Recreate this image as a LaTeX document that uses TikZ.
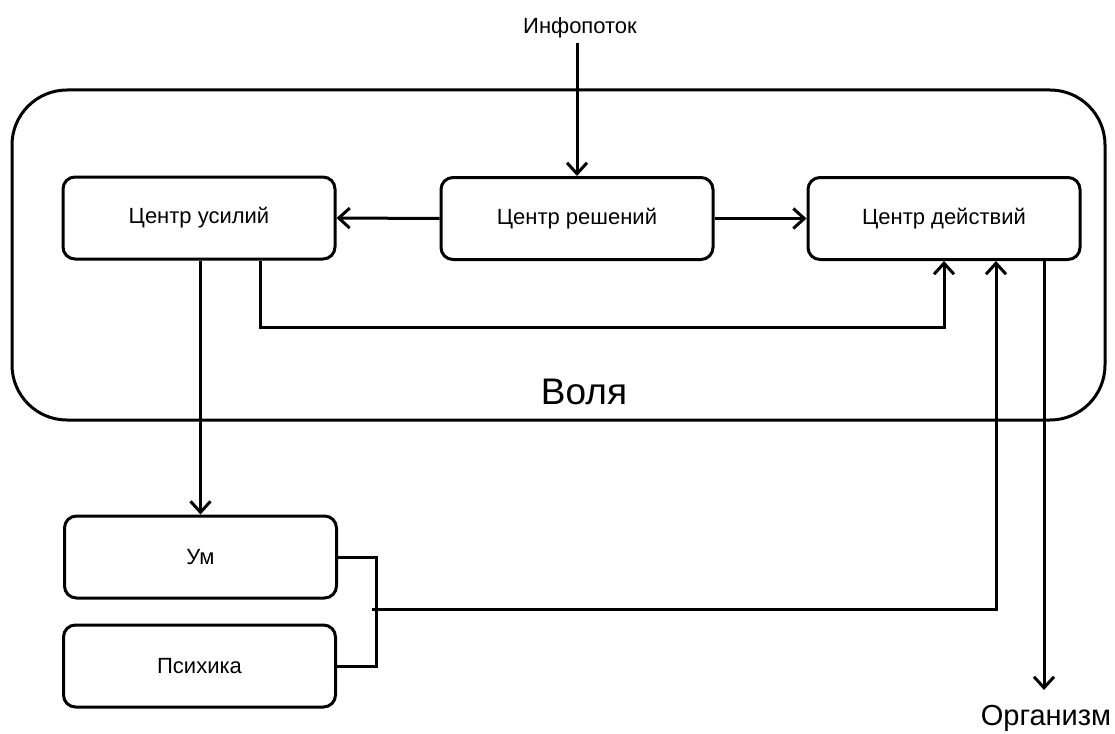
\documentclass[tikz,border=0pt]{standalone}
\usepackage{fontspec}
\setmainfont{Liberation Sans}
\usetikzlibrary{arrows.meta}
\tikzset{
	blok/.style={draw, rounded corners=12pt, minimum width=272pt, minimum height=82pt, inner sep=0pt, font=\fontsize{22}{26}\selectfont},
	strelka/.style={-{Straight Barb[length=11pt,width=20pt]}}
}
\begin{document}
\begin{tikzpicture}[x=1pt,y=-1pt,line width=3pt]
	\useasboundingbox (0,0) rectangle (1115,733);
	\draw[rounded corners=55pt] (12,90) rectangle (1105,420);
	\node[font=\fontsize{37}{42}\selectfont] (volya) at (584,392) {Воля};
	\node[font=\fontsize{22}{26}\selectfont] (info) at (580,28) {Инфопоток};
	\node[blok] (usil) at (199,218) {Центр усилий};
	\node[blok] (resh) at (577,218.5) {Центр решений};
	\node[blok] (deist) at (944,218.5) {Центр действий};
	\node[blok] (um) at (200.5,557) {Ум};
	\node[blok] (psih) at (199.5,666) {Психика};
	\node[font=\fontsize{29}{33}\selectfont] (org) at (1046,718) {Организм};
	\coordinate (skoba) at (376,609);
	\coordinate (orgtip) at (1044,690);
	\draw[strelka] (resh.north |- info.south) -- (resh.north);
	\draw[strelka] (resh.west) -- (usil.east);
	\draw[strelka] (resh.east) -- (deist.west);
	\draw[strelka] ([xshift=61pt]usil.south) -- ++(0,67) -| (deist.south);
	\draw[strelka] (usil.south -| um.north) -- (um.north);
	\draw (um.east) -| (skoba) |- (psih.east);
	\draw[strelka] ([xshift=-4pt]skoba) -| ([xshift=52pt]deist.south);
	\draw[strelka] ([xshift=100pt]deist.south) -- (orgtip);
\end{tikzpicture}
\end{document}
